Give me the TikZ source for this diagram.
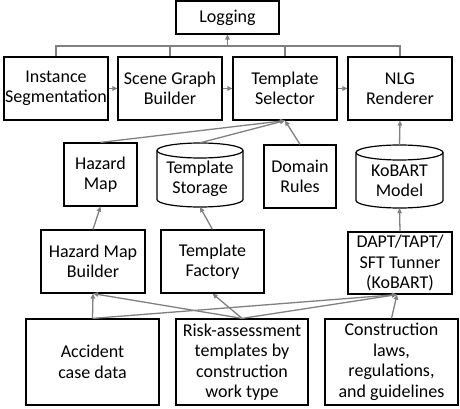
\documentclass[tikz,border=0pt]{standalone}
\usepackage{fontspec}
\setmainfont{Carlito}
\usetikzlibrary{arrows.meta,calc}
\definecolor{linegray}{RGB}{128,128,128}
\begin{document}
\begin{tikzpicture}[x=1pt,y=-1pt,
  box/.style={draw, line width=1.2pt, align=center, inner sep=0pt, font=\fontsize{18}{20.5}\selectfont},
  plain/.style={align=center, inner sep=0pt, font=\fontsize{18}{20.5}\selectfont},
  cyl/.style={draw, line width=1.2pt},
  conn/.style={draw=linegray, line width=1.3pt},
  arr/.style={conn, -{Triangle[length=5pt,width=4.5pt]}}]
\useasboundingbox (0,0) rectangle (460,409);
% top row
\node[box, minimum width=103, minimum height=33] (log) at (227.5,17.5) {Logging};
\node[box, minimum width=104, minimum height=63] (is) at (56,88.5) {Instance\\Segmentation};
\node[box, minimum width=104, minimum height=63] (sgb) at (170,88.5) {Scene Graph\\Builder};
\node[box, minimum width=104, minimum height=63] (ts) at (285,88.5) {Template\\Selector};
\node[box, minimum width=104, minimum height=63] (nlg) at (400,88.5) {NLG\\Renderer};
% middle row
\node[box, minimum width=73, minimum height=63] (hm) at (100.5,174.5) {Hazard\\Map};
\node[plain, minimum width=86, minimum height=64] (tstor) at (200,175) {};
\node[plain] (tstort) at (200,179) {Template\\Storage};
\node[box, minimum width=72, minimum height=63] (dr) at (300,176.5) {Domain\\Rules};
\node[plain, minimum width=87, minimum height=63] (kob) at (399.5,176.5) {};
\node[plain] (kobt) at (399.5,181) {KoBART\\Model};
% cylinders
\draw[cyl] (200,150.5) ellipse[x radius=43, y radius=7.5];
\draw[cyl] (157,150.5) -- (157,199.5) arc[start angle=180, end angle=0, x radius=43, y radius=7.5] -- (243,150.5);
\draw[cyl] (399.5,152.5) ellipse[x radius=43.5, y radius=7.5];
\draw[cyl] (356,152.5) -- (356,200.5) arc[start angle=180, end angle=0, x radius=43.5, y radius=7.5] -- (443,152.5);
% lower rows
\node[box, minimum width=104, minimum height=63] (hmb) at (93,261.5) {Hazard Map\\Builder};
\node[box, minimum width=103, minimum height=63] (tf) at (212.5,261.5) {Template\\Factory};
\node[box, minimum width=104, minimum height=62] (dapt) at (400,263) {DAPT/TAPT/\\SFT Tunner\\(KoBART)};
\node[box, minimum width=133, minimum height=86] (acc) at (92.5,362) {Accident\\case data};
\node[box, minimum width=132, minimum height=86] (risk) at (242,362) {Risk-assessment\\templates by\\construction\\work type};
\node[box, minimum width=133, minimum height=86] (con) at (391.5,362) {Construction\\laws,\\regulations,\\and guidelines};
% logging bus
\coordinate (bus) at (0,46);
\draw[conn] (is.north) |- (nlg.north |- bus) -- (nlg.north);
\draw[conn] (sgb.north) -- (sgb.north |- bus);
\draw[conn] (ts.north) -- (ts.north |- bus);
\draw[arr] (log.south |- bus) -- (log.south);
% pipeline
\draw[arr] (is.east) -- (sgb.west);
\draw[arr] (sgb.east) -- (ts.west);
\draw[arr] (ts.east) -- (nlg.west);
\draw[arr] (hm.north) -- (ts.south);
\draw[arr] (tstor.north) -- (ts.south);
\draw[arr] (dr.north) -- (ts.south);
\draw[arr] (kob.north) -- (nlg.south);
\draw[arr] (hmb.north) -- (hm.south);
\draw[arr] (tf.north) -- (tstor.south);
\draw[arr] (dapt.north) -- (kob.south);
% sources
\coordinate (dapt-in) at ($(dapt.south)+(-3,0)$);
\draw[arr] (acc.north) -- (hmb.south);
\draw[arr] (acc.north) -- (dapt-in);
\draw[arr] (risk.north) -- (hmb.south);
\draw[arr] (risk.north) -- (tf.south);
\draw[arr] (risk.north) -- (dapt-in);
\draw[arr] (con.north) -- (dapt-in);
\end{tikzpicture}
\end{document}
